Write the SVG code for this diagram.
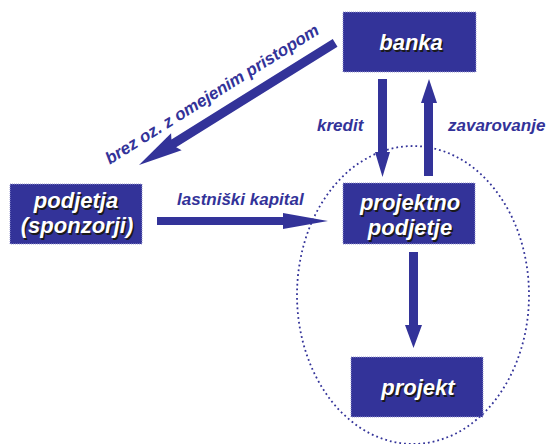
<svg xmlns="http://www.w3.org/2000/svg" width="550" height="444" viewBox="0 0 550 444">
  <style>
    .box { fill: #333399; stroke: #9a9ad0; stroke-width: 1; stroke-dasharray: 1 1; }
    .name { font-family: "Liberation Sans", Arial, sans-serif; font-weight: bold; font-style: italic; font-size: 22px; text-anchor: middle; }
    .name-shadow { fill: #1a1a1a; }
    .name-fg { fill: #ffffff; }
    .lbl { font-family: "Liberation Sans", Arial, sans-serif; font-weight: bold; font-style: italic; font-size: 17px; fill: #333399; }
    .arrow { fill: #333399; }
  </style>

  <rect width="550" height="444" fill="#ffffff"/>

  <!-- scope of the project company -->
  <ellipse cx="413" cy="295" rx="116" ry="149" fill="none" stroke="#333399" stroke-width="1.8" stroke-dasharray="1.8 3"/>

  <g id="connectors">
    <!-- banka -> podjetja (diagonal) -->
    <polygon class="arrow" transform="translate(139,165) rotate(-31.9)" points="0,0 44,-10 41,-4.5 231,-4.5 231,4.5 41,4.5 44,10"/>
    <text class="lbl" transform="translate(215,99) rotate(-32)" text-anchor="middle">brez oz. z omejenim pristopom</text>

    <!-- kredit: banka -> projektno podjetje -->
    <polygon class="arrow" points="378,79 387,79 387,152 390,152 382.5,177 375,152 378,152"/>
    <text class="lbl" x="317" y="131">kredit</text>

    <!-- zavarovanje: projektno podjetje -> banka -->
    <polygon class="arrow" points="424,176 433,176 433,103 437,103 429,79 421,103 424,103"/>
    <text class="lbl" x="448" y="131">zavarovanje</text>

    <!-- lastniški kapital: podjetja -> projektno podjetje -->
    <polygon class="arrow" points="157,217 283,217 283,213 328,221 283,229 283,225 157,225"/>
    <text class="lbl" x="177" y="205">lastniški kapital</text>

    <!-- projektno podjetje -> projekt -->
    <polygon class="arrow" points="409,252 418,252 418,325 422,325 413.5,348 405,325 409,325"/>
  </g>

  <g id="banka">
    <rect class="box" x="343" y="12" width="133" height="60"/>
    <text class="name name-shadow" x="412.5" y="51.5">banka</text>
    <text class="name name-fg" x="411" y="50">banka</text>
  </g>

  <g id="podjetja">
    <rect class="box" x="10" y="184" width="132" height="60"/>
    <text class="name name-shadow" x="77.5" y="209.5">podjetja</text>
    <text class="name name-fg" x="76" y="208">podjetja</text>
    <text class="name name-shadow" x="78.5" y="234.5">(sponzorji)</text>
    <text class="name name-fg" x="77" y="233">(sponzorji)</text>
  </g>

  <g id="projektno-podjetje">
    <rect class="box" x="343" y="183" width="132" height="61"/>
    <text class="name name-shadow" x="411.5" y="211.5">projektno</text>
    <text class="name name-fg" x="410" y="210">projektno</text>
    <text class="name name-shadow" x="411.5" y="236.5">podjetje</text>
    <text class="name name-fg" x="410" y="235">podjetje</text>
  </g>

  <g id="projekt">
    <rect class="box" x="351" y="357" width="132" height="60"/>
    <text class="name name-shadow" x="419.5" y="396.5">projekt</text>
    <text class="name name-fg" x="418" y="395">projekt</text>
  </g>
</svg>
